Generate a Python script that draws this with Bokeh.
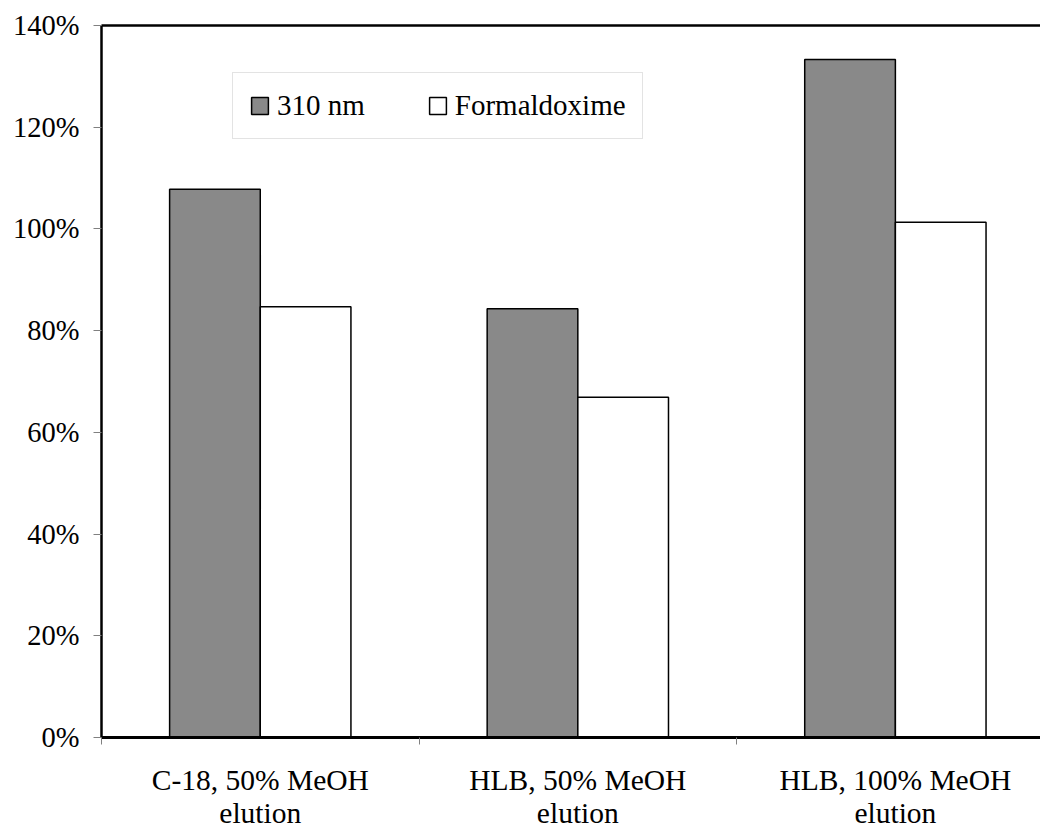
from bokeh.plotting import figure
from bokeh.models import (ColumnDataSource, Range1d, LinearAxis, FixedTicker,
                          PrintfTickFormatter, Legend, LegendItem)
from bokeh.transform import dodge
from bokeh.embed import file_html
from bokeh.resources import INLINE

# ---- data ----
categories = ["C-18, 50% MeOH\nelution", "HLB, 50% MeOH\nelution", "HLB, 100% MeOH\nelution"]
series_names = ["310 nm", "Formaldoxime"]
values_310nm = [107.8, 84.3, 133.3]
values_formaldoxime = [84.7, 66.9, 101.3]
y_ticks = [0, 20, 40, 60, 80, 100, 120, 140]

FONT = "Liberation Serif"

centers = [i + 0.5 for i in range(len(categories))]
source = ColumnDataSource(dict(x=centers, v310=values_310nm, vform=values_formaldoxime))

p = figure(width=1040, height=832, output_backend="svg", toolbar_location=None,
           x_range=Range1d(0, 2.957), y_range=Range1d(0, 140),
           x_axis_type=None, y_axis_type=None,
           min_border_left=101, min_border_right=0, min_border_top=25, min_border_bottom=94)
p.outline_line_color = None
p.background_fill_color = "white"
p.border_fill_color = "white"

bw = 0.2855
r1 = p.vbar(x=dodge("x", -bw / 2, range=p.x_range), top="v310", width=bw, source=source,
            fill_color="#898989", line_color="black", line_width=1.5)
r2 = p.vbar(x=dodge("x", bw / 2, range=p.x_range), top="vform", width=bw, source=source,
            fill_color="white", line_color="black", line_width=1.5)

# left axis
yax = LinearAxis(ticker=FixedTicker(ticks=y_ticks), formatter=PrintfTickFormatter(format="%d%%"))
yax.axis_line_color = "black"
yax.axis_line_width = 2.5
yax.major_tick_line_color = "#808080"
yax.major_tick_line_width = 1
yax.major_tick_out = 8
yax.major_tick_in = 0
yax.minor_tick_line_color = None
yax.major_label_standoff = 14
yax.major_label_text_font = FONT
yax.major_label_text_font_size = "28.5px"
yax.major_label_text_color = "black"
p.add_layout(yax, "left")

# bottom axis
xax = LinearAxis(ticker=FixedTicker(ticks=centers, minor_ticks=[0, 1, 2]))
xax.major_label_overrides = {c: lab for c, lab in zip(centers, categories)}
xax.axis_line_color = "black"
xax.axis_line_width = 3
xax.major_tick_line_color = None
xax.major_tick_out = 7
xax.major_tick_in = 0
xax.minor_tick_line_color = "#808080"
xax.minor_tick_line_width = 1
xax.minor_tick_out = 7
xax.minor_tick_in = 0
xax.major_label_standoff = 19
xax.major_label_text_font = FONT
xax.major_label_text_font_size = "29.5px"
xax.major_label_text_line_height = 1.05
xax.major_label_text_color = "black"
p.add_layout(xax, "below")

# top frame line
tax = LinearAxis(ticker=FixedTicker(ticks=[]))
tax.axis_line_color = "black"
tax.axis_line_width = 2.5
tax.major_tick_line_color = None
tax.minor_tick_line_color = None
tax.major_tick_out = 0
tax.major_tick_in = 0
tax.major_label_standoff = 0
tax.major_label_text_font_size = "0px"
p.add_layout(tax, "above")

legend = Legend(items=[LegendItem(label=series_names[0], renderers=[r1]),
                       LegendItem(label=series_names[1], renderers=[r2])],
                orientation="horizontal", location=(131, 598),
                padding=16, spacing=62, margin=0,
                glyph_width=21, glyph_height=21, label_standoff=7,
                label_text_font=FONT, label_text_font_size="29px",
                label_text_color="black",
                border_line_color="#c8c8c8", border_line_width=1,
                background_fill_color="white", background_fill_alpha=1.0)
p.add_layout(legend)

open("out.html", "w").write(file_html(p, INLINE))
